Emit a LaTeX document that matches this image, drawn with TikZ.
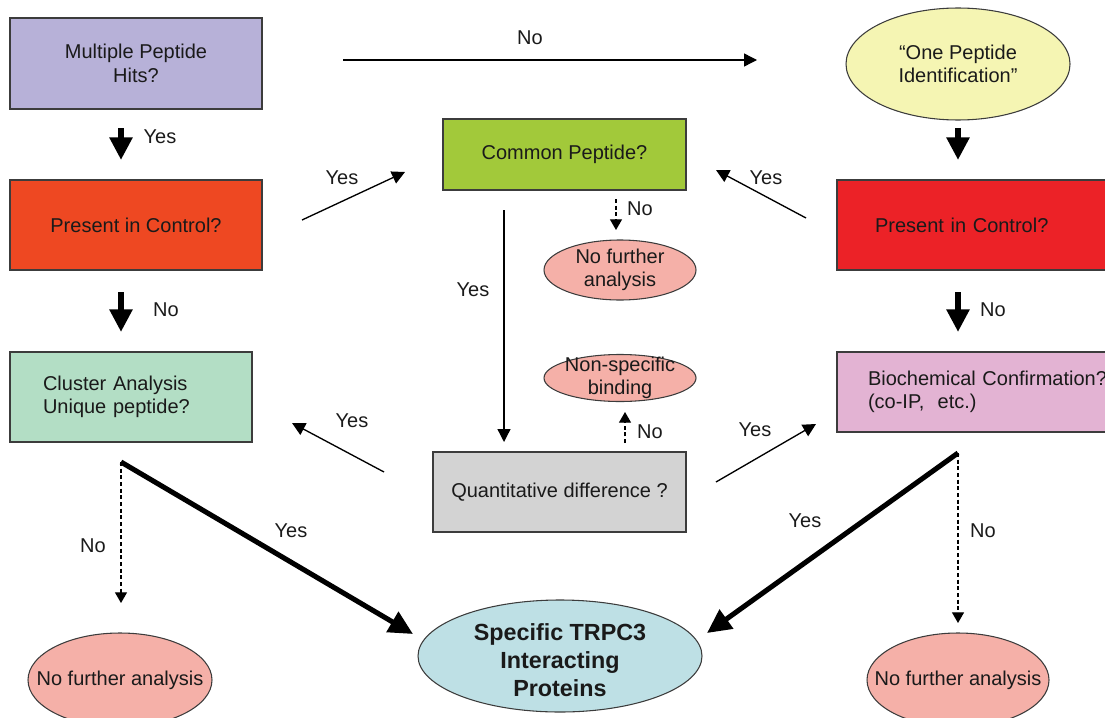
\documentclass[tikz,border=0pt]{standalone}
\usepackage{fontspec}
\setmainfont{Liberation Sans}
\usetikzlibrary{shapes.geometric,arrows.meta}
\definecolor{txt}{HTML}{1A1A1A}
\definecolor{bord}{HTML}{3C3C3C}
\definecolor{lav}{HTML}{B7B1D8}
\definecolor{orng}{HTML}{EE4822}
\definecolor{redb}{HTML}{EC2227}
\definecolor{lime}{HTML}{A2C93A}
\definecolor{mint}{HTML}{B3DEC5}
\definecolor{grayb}{HTML}{D3D3D3}
\definecolor{pinkb}{HTML}{E3B3D3}
\definecolor{yel}{HTML}{F5F5B3}
\definecolor{salm}{HTML}{F5B0A8}
\definecolor{lblue}{HTML}{BEE0E5}
\begin{document}
\begin{tikzpicture}[x=0.75pt,y=-0.75pt,
  every node/.style={font=\fontsize{15}{17.5}\selectfont, text=txt},
  box/.style={draw=bord, line width=0.8pt, rectangle, inner sep=0pt, align=center},
  oval/.style={draw=bord, line width=0.8pt, ellipse, inner sep=0pt},
  thinar/.style={line width=1pt, -{Triangle[length=9.75pt,width=9.75pt]}},
  dsh/.style={line width=0.9pt, dash pattern=on 3pt off 2pt, -{Triangle[length=8pt,width=9pt]}},
  thickar/.style={line width=3.8pt, -{Triangle[length=18pt,width=17pt]}},
  stub/.style={line width=4.5pt, -{Triangle[length=17pt,width=16.5pt]}},
  lab/.style={inner sep=0pt}]
\useasboundingbox (0,0) rectangle (1105,717);

% boxes
\node[box, fill=lav, minimum width=189pt, minimum height=68.25pt] (mph) at (136,63.5) {Multiple Peptide\\Hits?};
\node[box, fill=orng, minimum width=189pt, minimum height=67.5pt] (pcl) at (136,225) {Present in Control?};
\node[box, fill=mint, minimum width=181.5pt, minimum height=67.5pt, text width=132pt, align=left] (clu) at (131,397) {Cluster Analysis\\Unique peptide?};
\node[box, fill=lime, minimum width=182.25pt, minimum height=53.25pt] (com) at (564.5,154.5) {Common Peptide?};
\node[box, fill=grayb, minimum width=189.75pt, minimum height=60pt] (qd) at (559.5,492) {Quantitative difference ?};
\node[box, fill=redb, minimum width=208.5pt, minimum height=67.5pt, text width=151.5pt, align=left] (pcr) at (976,225) {Present in Control?};
\node[box, fill=pinkb, minimum width=234.75pt, minimum height=60pt, text width=188.25pt, align=left] (bio) at (993.5,392) {Biochemical Confirmation?\\(co-IP,\ \ etc.)};

% ellipses
\node[oval, fill=yel, minimum width=168pt, minimum height=84pt, label={[align=center]center:{“One Peptide\\Identification”}}] (one) at (958,64) {};
\node[oval, fill=salm, minimum width=114pt, minimum height=45pt, label={[align=center]center:{No further\\analysis}}] (nfm) at (620,270) {};
\node[oval, fill=salm, minimum width=114pt, minimum height=35.25pt, label={[align=center]center:{Non-specific\\binding}}] (nsb) at (620,378) {};
\node[oval, fill=lblue, minimum width=213pt, minimum height=84pt, label={[align=center,yshift=-3pt,font=\bfseries\fontsize{17.5}{21}\selectfont]center:{Specific TRPC3\\Interacting\\Proteins}}] (spc) at (560,656) {};
\node[oval, fill=salm, minimum width=138pt, minimum height=70.5pt, label=center:{No further analysis}] (nfl) at (120,680) {};
\node[oval, fill=salm, minimum width=136.5pt, minimum height=70.5pt, label=center:{No further analysis}] (nfr) at (958,680) {};

% connector end points
\coordinate (t1s) at (343,60);  \coordinate (t1e) at (757,60);
\coordinate (s1s) at (121,128); \coordinate (s1e) at (121,160);
\coordinate (s2s) at (121,292); \coordinate (s2e) at (121,332);
\coordinate (s3s) at (958,128); \coordinate (s3e) at (958,160);
\coordinate (s4s) at (958,292); \coordinate (s4e) at (958,332);
\coordinate (t2s) at (302,220); \coordinate (t2e) at (405,172);
\coordinate (t3s) at (806,218); \coordinate (t3e) at (716,170);
\coordinate (t4s) at (504,210); \coordinate (t4e) at (504,442);
\coordinate (t5s) at (384,472); \coordinate (t5e) at (292,423);
\coordinate (t6s) at (716,482); \coordinate (t6e) at (816,424);
\coordinate (d1s) at (616,199); \coordinate (d1e) at (616,230);
\coordinate (d2s) at (625,443); \coordinate (d2e) at (625,412);
\coordinate (cb) at (121,462);  \coordinate (d3e) at (121,603);
\coordinate (bb) at (958,453);  \coordinate (d4e) at (958,623);
\coordinate (k1e) at (413,634); \coordinate (k2e) at (707,633);

% connectors
\draw[thinar] (t1s) -- (t1e);
\draw[stub] (s1s) -- (s1e);
\draw[stub] (s2s) -- (s2e);
\draw[stub] (s3s) -- (s3e);
\draw[stub] (s4s) -- (s4e);
\draw[thinar] (t2s) -- (t2e);
\draw[thinar] (t3s) -- (t3e);
\draw[thinar] (t4s) -- (t4e);
\draw[thinar] (t5s) -- (t5e);
\draw[thinar] (t6s) -- (t6e);
\draw[dsh] (d1s) -- (d1e);
\draw[dsh] (d2s) -- (d2e);
\draw[dsh] (cb) -- (d3e);
\draw[dsh] (bb) -- (d4e);
\draw[thickar] (cb) -- (k1e);
\draw[thickar] (bb) -- (k2e);

% labels
\node[lab] (l1) at (530,38) {No};
\node[lab] (l2) at (160,137) {Yes};
\node[lab] (l3) at (342,178) {Yes};
\node[lab] (l4) at (766,178) {Yes};
\node[lab] (l5) at (640,209) {No};
\node[lab] (l6) at (473,290) {Yes};
\node[lab] (l7) at (166,310) {No};
\node[lab] (l8) at (993,310) {No};
\node[lab] (l9) at (352,421) {Yes};
\node[lab] (l10) at (650,432) {No};
\node[lab] (l11) at (755,430) {Yes};
\node[lab] (l12) at (291,531) {Yes};
\node[lab] (l13) at (93,546) {No};
\node[lab] (l14) at (805,521) {Yes};
\node[lab] (l15) at (983,531) {No};
\end{tikzpicture}
\end{document}
